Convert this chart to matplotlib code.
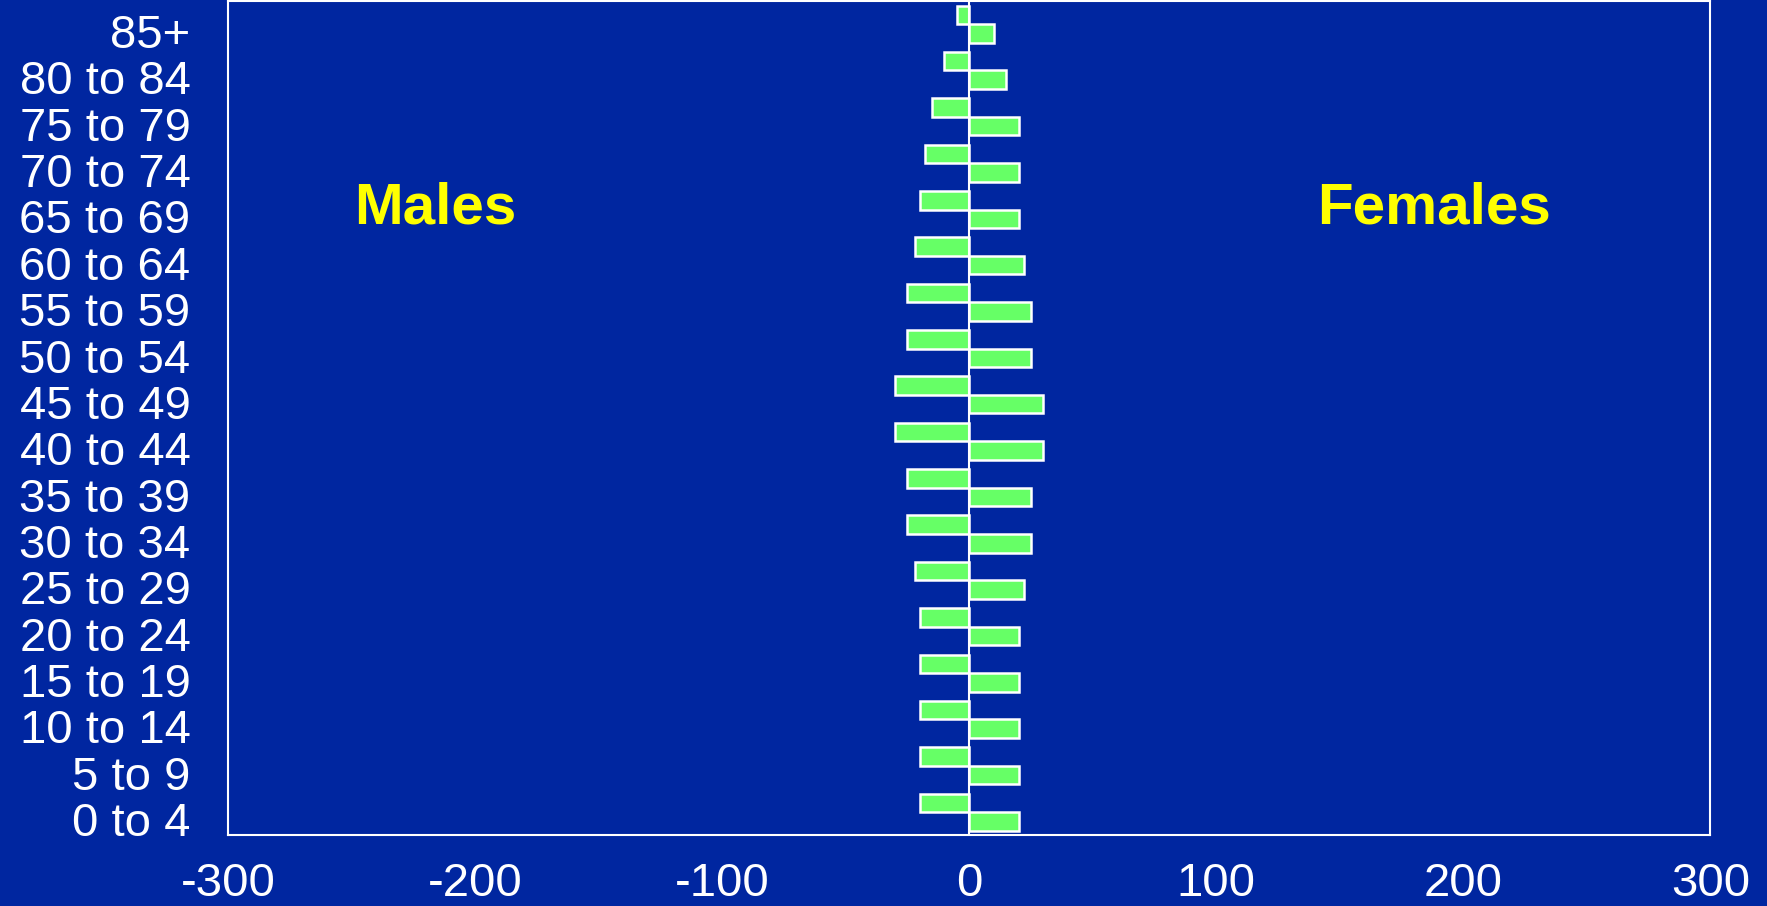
import matplotlib
matplotlib.use("Agg")
import matplotlib.pyplot as plt
import matplotlib.transforms as mtransforms
import numpy as np

plt.rcParams['font.family'] = ['Liberation Sans', 'DejaVu Sans']

# age groups, youngest first
age_groups = ['0 to 4', '5 to 9', '10 to 14', '15 to 19', '20 to 24', '25 to 29',
              '30 to 34', '35 to 39', '40 to 44', '45 to 49', '50 to 54', '55 to 59',
              '60 to 64', '65 to 69', '70 to 74', '75 to 79', '80 to 84', '85+']
males = [20, 20, 20, 20, 20, 22, 25, 25, 30, 30, 25, 25, 22, 20, 18, 15, 10, 5]
females = [20, 20, 20, 20, 20, 22, 25, 25, 30, 30, 25, 25, 22, 20, 20, 20, 15, 10]
xticks = [-300, -200, -100, 0, 100, 200, 300]

bg = '#0026A0'
bar_col = '#66FF66'

fig = plt.figure(figsize=(17.67, 9.06), dpi=100, facecolor=bg)
ax = fig.add_axes([0.129, 0.078, 0.839, 0.921], facecolor=bg)

y = np.arange(len(age_groups))
# males drawn as negative values above each tick, females below
ax.barh(y, [-m for m in males], height=0.4, align='edge',
        color=bar_col, edgecolor='white', linewidth=1.8)
ax.barh(y, females, height=-0.4, align='edge',
        color=bar_col, edgecolor='white', linewidth=1.8)
ax.axvline(0, color='white', lw=1.5)

ax.set_xlim(-300, 300)
ax.set_ylim(-0.5, len(age_groups) - 0.5)
ax.set_xticks(xticks)
ax.set_xticklabels([str(t) for t in xticks])
ax.set_yticks(y)
ax.set_yticklabels(age_groups)
ax.tick_params(axis='x', length=0, pad=19, labelsize=34, labelcolor='white')
ax.tick_params(axis='y', length=0, pad=27, labelsize=34, labelcolor='white')

# nudge the age labels down a little
shift = mtransforms.ScaledTranslation(0, -5 / 72, fig.dpi_scale_trans)
for lab in ax.get_yticklabels():
    lab.set_transform(lab.get_transform() + shift)

for s in ax.spines.values():
    s.set_color('white')
    s.set_linewidth(1.5)

ax.text(-216, 13.03, 'Males', color='yellow', fontsize=42, fontweight='bold',
        ha='center', va='center')
ax.text(188, 13.03, 'Females', color='yellow', fontsize=42, fontweight='bold',
        ha='center', va='center')

fig.savefig('out.png', dpi=100, facecolor=bg)
